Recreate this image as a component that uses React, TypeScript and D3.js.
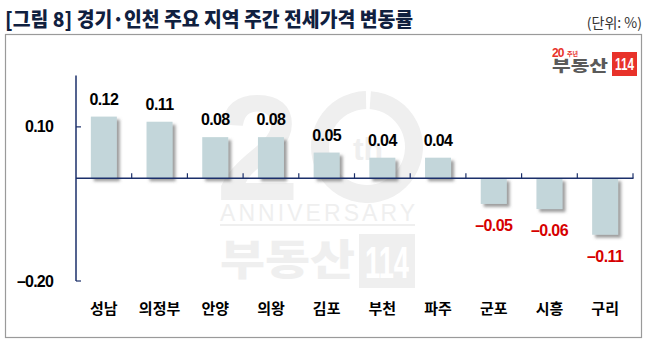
import React from "react";
import * as d3 from "d3";

const categories = ["성남", "의정부", "안양", "의왕", "김포", "부천", "파주", "군포", "시흥", "구리"];
const values = [0.12, 0.11, 0.08, 0.08, 0.05, 0.04, 0.04, -0.05, -0.06, -0.11];
const yTickValues = [0.1, -0.2];
const yTickLabels = ["0.10", "–0.20"];
const title = "[그림 8] 경기·인천 주요 지역 주간 전세가격 변동률";
const unitLabel = "(단위: %)";

const W = 654;
const H = 362;
const NUM_FONT = "'Liberation Sans', Arial, sans-serif";
const KR_FONT = "'Noto Sans CJK KR', 'Noto Sans', sans-serif";
const AXIS = "#1b2f6a";

export default function App() {
  const x = d3.scaleBand<string>().domain(categories).range([76, 633]).paddingInner(0.533).paddingOuter(0.2665);
  const y = d3.scaleLinear().domain([-0.2, 0.2]).range([281, 75.5]);
  const step = x.step();
  const [r0, r1] = x.range();
  const y0 = y(0);
  const ring = d3.arc()({ innerRadius: 38, outerRadius: 56, startAngle: 0.07, endAngle: Math.PI * 2 - 0.02 }) as string;
  const fmt = (v: number) => (v < 0 ? "–" + Math.abs(v).toFixed(2) : v.toFixed(2));

  return (
    <svg width={W} height={H} style={{ position: "absolute", left: 0, top: 0, background: "#fff" }}>
      <defs>
        <filter id="shadow" x="-30%" y="-30%" width="160%" height="160%">
          <feDropShadow dx="3" dy="3" stdDeviation="1.4" floodColor="#6b6b6b" floodOpacity="0.65" />
        </filter>
      </defs>
      <rect x={0} y={0} width={W} height={H} fill="#fff" />
      {/* title */}
      <text x={5} y={27} fontFamily={KR_FONT} fontWeight={900} fontSize={20} fill="#10203f" textLength={408} lengthAdjust="spacingAndGlyphs">
        {title}
      </text>
      <text x={642} y={28} textAnchor="end" fontFamily={KR_FONT} fontSize={14} fill="#333">
        {unitLabel}
      </text>
      {/* frame */}
      <rect x={5.5} y={34.5} width={636} height={303} fill="none" stroke="#9a9a9a" strokeWidth={1.2} />

      {/* watermark */}
      <g fill="#efefef">
        <text x={216} y={200} fontFamily={NUM_FONT} fontWeight={700} fontSize={150}>2</text>
        <path d={ring} transform="translate(367,147)" />
        <text x={368} y={160} textAnchor="middle" fontFamily={NUM_FONT} fontWeight={700} fontSize={32}>th</text>
        <text x={220} y={221} fontFamily={NUM_FONT} fontSize={23} textLength={195} lengthAdjust="spacing">ANNIVERSARY</text>
        <rect x={220} y={224} width={195} height={2} />
        <text x={220} y={275} fontFamily={KR_FONT} fontWeight={900} fontSize={42} textLength={135} lengthAdjust="spacingAndGlyphs">부동산</text>
        <rect x={359} y={234} width={56} height={54} />
        <text x={387} y={278} textAnchor="middle" fill="#fff" fontFamily={NUM_FONT} fontWeight={700} fontSize={44} textLength={44} lengthAdjust="spacingAndGlyphs">114</text>
      </g>

      {/* logo */}
      <g>
        <text x={552} y={57} fontFamily={NUM_FONT} fontWeight={700} fontSize={12} fill="#e8322a" letterSpacing={-1}>20</text>
        <text x={567} y={56} fontFamily={KR_FONT} fontWeight={700} fontSize={6} fill="#e8322a">주년</text>
        <text x={552} y={71} fontFamily={KR_FONT} fontWeight={900} fontSize={15} fill="#5a5a5a" textLength={56} lengthAdjust="spacingAndGlyphs">부동산</text>
        <rect x={612} y={52} width={25} height={24} fill="#e8322a" />
        <text x={624.5} y={70} textAnchor="middle" fontFamily={NUM_FONT} fontWeight={700} fontSize={17} fill="#fff" textLength={19} lengthAdjust="spacingAndGlyphs">114</text>
      </g>

      {/* bars */}
      <g filter="url(#shadow)">
        {values.map((v, i) => (
          <rect
            key={categories[i]}
            x={x(categories[i])!}
            y={Math.min(y(v), y0)}
            width={x.bandwidth()}
            height={Math.abs(y(v) - y0)}
            fill="#c3d6da"
          />
        ))}
      </g>

      {/* value labels */}
      {values.map((v, i) => {
        const cx = x(categories[i])! + x.bandwidth() / 2;
        const neg = v < 0;
        return (
          <text
            key={"l" + i}
            x={cx}
            y={neg ? y(v) + 27 : y(v) - 12}
            textAnchor="middle"
            fontFamily={NUM_FONT}
            fontWeight={700}
            fontSize={16}
            letterSpacing={-0.6}
            fill={neg ? "#d60000" : "#000"}
          >
            {fmt(v)}
          </text>
        );
      })}

      {/* y axis */}
      <line x1={r0} x2={r0} y1={y(0.2)} y2={y(-0.2)} stroke={AXIS} strokeWidth={1.5} />
      {yTickValues.map((t, i) => (
        <g key={"yt" + i}>
          <line x1={r0} x2={r0 + 5} y1={y(t)} y2={y(t)} stroke={AXIS} strokeWidth={1.2} />
          <text x={53} y={y(t) + 5.5} textAnchor="end" fontFamily={NUM_FONT} fontWeight={700} fontSize={16} letterSpacing={-0.8} fill="#000">
            {yTickLabels[i]}
          </text>
        </g>
      ))}

      {/* x axis */}
      <line x1={r0} x2={r1 + 0.5} y1={y0} y2={y0} stroke={AXIS} strokeWidth={1.5} />
      {categories.map((c, i) => (
        <line key={"xt" + c} x1={r0 + step * (i + 1)} x2={r0 + step * (i + 1)} y1={y0 - 5} y2={y0} stroke={AXIS} strokeWidth={1.2} />
      ))}
      {categories.map((c) => (
        <text key={"xl" + c} x={x(c)! + x.bandwidth() / 2} y={313.5} textAnchor="middle" fontFamily={KR_FONT} fontWeight={700} fontSize={15} fill="#000">
          {c}
        </text>
      ))}
    </svg>
  );
}
